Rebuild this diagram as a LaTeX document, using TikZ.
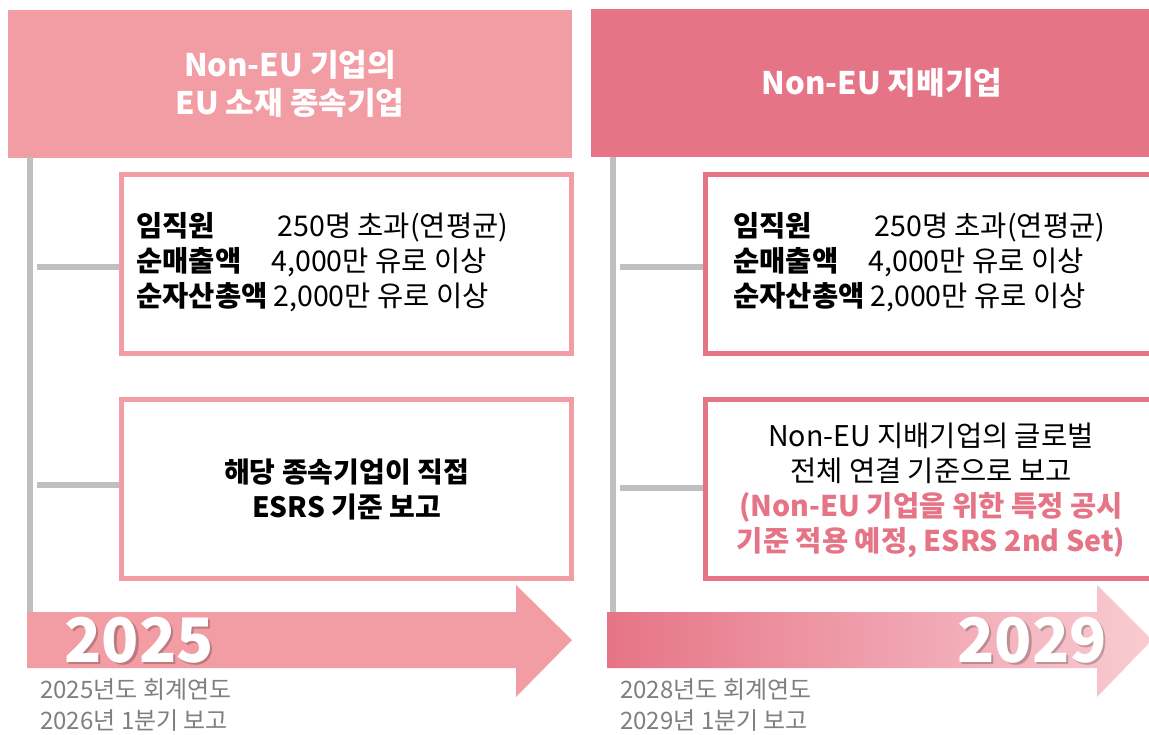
\documentclass[tikz,border=0pt]{standalone}
\usepackage{fontspec}
\setmainfont{Noto Sans CJK KR}
\usepackage{xcolor}
\usepackage{tikz}
\usetikzlibrary{positioning}
\definecolor{pinklight}{HTML}{F29CA3}
\definecolor{pinkdeep}{HTML}{E67487}
\definecolor{pinkpale}{HTML}{F9CCD2}
\definecolor{linegray}{HTML}{BFBFBF}
\definecolor{notegray}{HTML}{7F7F7F}
\tikzstyle{header} = [rectangle, minimum height=111pt, inner sep=0pt, text=white, font=\fontsize{23.3}{28.5}\selectfont\bfseries, align=center]
\tikzstyle{infobox} = [rectangle, draw, line width=3.75pt, fill=white, minimum width=337.5pt, minimum height=134.25pt, inner sep=0pt]
\tikzstyle{boxtext} = [inner sep=0pt, font=\fontsize{21.4}{26.25}\selectfont, align=center]
\tikzstyle{timeline} = [line width=4.5pt, linegray]
\tikzstyle{yearlabel} = [inner sep=0pt, text=white, font=\fontsize{46}{46}\selectfont\bfseries]
\tikzstyle{yearshadow} = [inner sep=0pt, text=black, opacity=0.22, font=\fontsize{46}{46}\selectfont\bfseries]
\tikzstyle{note} = [inner sep=0pt, anchor=west, text=notegray, font=\fontsize{18}{23.25}\selectfont]
\newcommand{\critrows}{%
  \begin{tabular}{@{}l@{\hspace{4.5pt}}l@{}}
    \textbf{임직원} & \hspace{3pt}250명 초과(연평균)\\
    \textbf{순매출액} & \hspace{-1.5pt}4,000만 유로 이상\\
    \textbf{순자산총액} & 2,000만 유로 이상
  \end{tabular}}

\begin{document}
\begin{tikzpicture}[x=0.75pt, y=-0.75pt]
    \clip (0,0) rectangle (1149,735);
    \fill[white] (0,0) rectangle (1149,735);
    % headers
    \node(hdrL)[header, fill=pinklight, minimum width=423pt] at (290,84) {Non-EU 기업의\\EU 소재 종속기업};
    \node(hdrR)[header, fill=pinkdeep, minimum width=436.5pt] at (882,83) {Non-EU 지배기업};
    %
    \coordinate(tlL) at (30,157);
    \coordinate(tlLend) at (30,614);
    \coordinate(tlR) at (613,157);
    \coordinate(tlRend) at (613,614);
    \draw[timeline](tlL) -- (tlLend);
    \draw[timeline](tlR) -- (tlRend);
    % boxes
    \node(boxL1)[infobox, draw=pinklight] at (346.5,264) {};
    \node(boxL2)[infobox, draw=pinklight] at (346.5,488.5) {};
    \node(boxR1)[infobox, draw=pinkdeep] at (930,264) {};
    \node(boxR2)[infobox, draw=pinkdeep] at (930,488.5) {};
    \coordinate(brL1) at (37,267);
    \coordinate(brL2) at (37,485);
    \coordinate(brR1) at (620,267);
    \coordinate(brR2) at (620,488);
    \draw[timeline](brL1) -- (brL1 -| boxL1.west);
    \draw[timeline](brL2) -- (brL2 -| boxL2.west);
    \draw[timeline](brR1) -- (brR1 -| boxR1.west);
    \draw[timeline](brR2) -- (brR2 -| boxR2.west);
    %
    \node(critL)[boxtext, anchor=west] at (136,264) {\critrows};
    \node(critR)[boxtext, anchor=west] at (733,264) {\critrows};
    \node(repL)[boxtext, font=\fontsize{21}{26.25}\selectfont\bfseries] at (346.5,489) {해당 종속기업이 직접\\ESRS 기준 보고};
    \node(repR)[boxtext] at (931,490) {Non-EU 지배기업의 글로벌\\전체 연결 기준으로 보고\\{\bfseries\color{pinkdeep}(Non-EU 기업을 위한 특정 공시}\\{\bfseries\color{pinkdeep}기준 적용 예정, ESRS 2nd Set)}};
    % arrows
    \fill[pinklight] (27,612) -- (516,612) -- (516,585) -- (572,640) -- (516,697) -- (516,668) -- (27,668) -- cycle;
    \shade[left color=pinkdeep, right color=pinkpale] (607,612) -- (1097,612) -- (1097,585) -- (1152,640) -- (1097,697) -- (1097,668) -- (607,668) -- cycle;
    \node(yrLsh)[yearshadow] at (141.5,642.5) {2025};
    \node(yrL)[yearlabel] at (139,640) {2025};
    \node(yrRsh)[yearshadow] at (1034.5,642.5) {2029};
    \node(yrR)[yearlabel] at (1032,640) {2029};
    %
    \node(noteL1)[note] at (40,690) {2025년도 회계연도};
    \node(noteL2)[note] at (40,721) {2026년 1분기 보고};
    \node(noteR1)[note] at (620,690) {2028년도 회계연도};
    \node(noteR2)[note] at (620,721) {2029년 1분기 보고};
\end{tikzpicture}
\end{document}
